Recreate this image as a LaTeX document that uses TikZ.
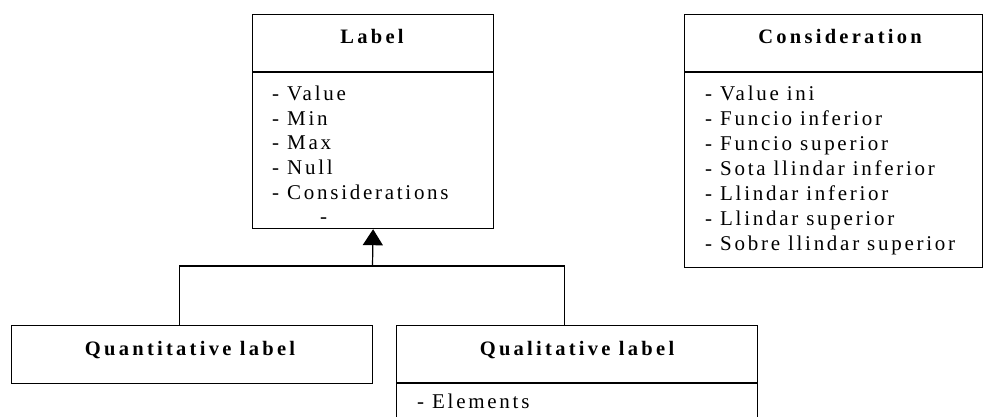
\documentclass[tikz,border=0pt]{standalone}
\usepackage{fontspec}
\setmainfont{Liberation Serif}[LetterSpace=13,BoldFeatures={LetterSpace=16}]
\usetikzlibrary{arrows.meta}
\begin{document}
\begin{tikzpicture}[x=1pt,y=-1pt,
  frame/.style={draw, line width=1.2pt, inner sep=0pt, anchor=north west},
  sep/.style={line width=1.2pt},
  title/.style={font=\fontsize{20.5}{24}\selectfont\bfseries, anchor=base, inner sep=0pt},
  item/.style={font=\fontsize{21}{24}\selectfont, anchor=base west, inner sep=0pt},
  conn/.style={line width=1.2pt}
]
\useasboundingbox (0,0) rectangle (984,416);

% class frames
\node[frame, minimum width=241pt, minimum height=214pt] (label) at (252,14) {};
\node[frame, minimum width=298pt, minimum height=253pt] (cons) at (684,14) {};
\node[frame, minimum width=361pt, minimum height=58pt] (quant) at (11,325) {};
\node[frame, minimum width=361pt, minimum height=95pt] (qual) at (396,325) {};

% header separators
\draw[sep] ([yshift=-58pt]label.north west) -- ([yshift=-58pt]label.north east);
\draw[sep] ([yshift=-58pt]cons.north west) -- ([yshift=-58pt]cons.north east);
\draw[sep] ([yshift=-58pt]qual.north west) -- ([yshift=-58pt]qual.north east);

% titles
\node[title] (labelT) at (372,43) {Label};
\node[title] (consT) at (840,43) {Consideration};
\node[title] (quantT) at (190,355) {Quantitative label};
\node[title] (qualT) at (577,355) {Qualitative label};

% Label attributes
\foreach \t [count=\i] in {Value,Min,Max,Null,Considerations}
  \node[item] (labA\i) at (272,{100.7+24.6*(\i-1)}) {- \t};
\node[item] (labA6) at (320,223.6) {-};

% Consideration attributes
\foreach \t [count=\i] in {Value ini,Funcio inferior,Funcio superior,Sota llindar inferior,Llindar inferior,Llindar superior,Sobre llindar superior}
  \node[item] (consA\i) at (705,{100+25*(\i-1)}) {- \t};

% Qualitative attributes
\node[item] (qualA1) at (417,408.7) {- Elements};

% generalisation connector
\coordinate (j) at (372.5,266);
\draw[conn] ([xshift=-12.5pt]quant.north) |- (j) -| ([xshift=-12.5pt]qual.north);
\draw[conn, -{Triangle[width=20pt,length=16pt]}] (j) -- (label.south);
\end{tikzpicture}
\end{document}
